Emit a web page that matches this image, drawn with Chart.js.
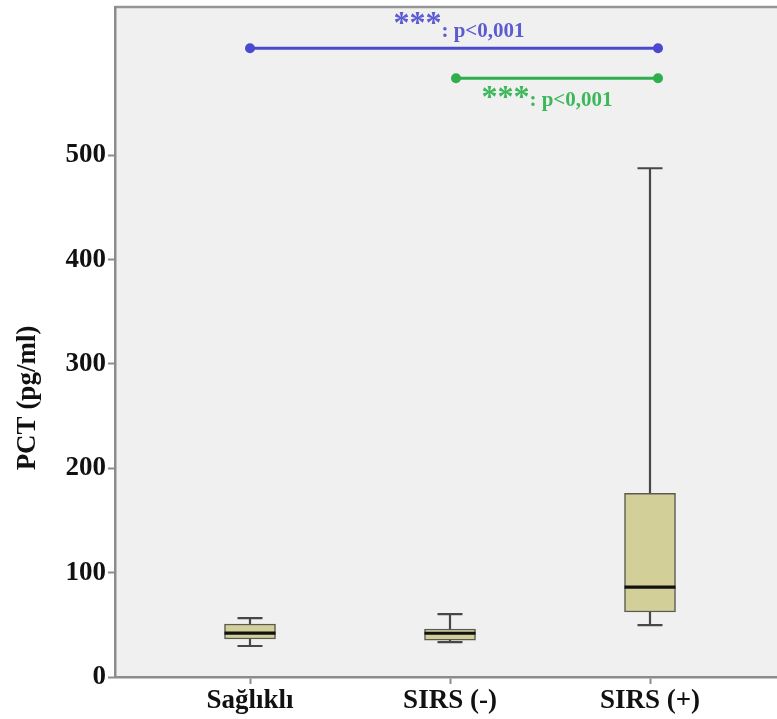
<!DOCTYPE html>
<html>
<head>
<meta charset="utf-8">
<script src="https://cdn.jsdelivr.net/npm/chart.js@4.4.1/dist/chart.umd.min.js"></script>
<style>
body { margin: 0; background: #fff; }
#wrap { width: 777px; height: 719px; overflow: hidden; }
</style>
</head>
<body>
<div id="wrap"><canvas id="box-chart" width="800" height="719"></canvas></div>
<script>
// PCT per group (pg/ml)
const groups = ['Sağlıklı', 'SIRS (-)', 'SIRS (+)'];
const whiskerLow = [29.7, 33.5, 49.8];
const q1 = [36.4, 35.4, 62.3];
const median = [42.1, 41.9, 86.2];
const q3 = [50.8, 46.0, 176];
const whiskerHigh = [56.5, 60.3, 487.5];
const yTicks = [0, 100, 200, 300, 400, 500];

// comparison brackets
const bracketFrom = [1.0, 2.03];
const bracketTo = [3.04, 3.04];
const bracketY = [602.5, 573.8];
const bracketText = ['***', '***'];
const bracketP = [': p<0,001', ': p<0,001'];
const bracketColor = ['#4a4ad0', '#2eae4c'];
const bracketTextColor = ['#5c5cd2', '#3cb85a'];

const FONT = '"Liberation Serif", "Times New Roman", serif';
const BOX_W = 51;

const canvas = document.querySelector('#box-chart');

const plotBg = {
    id: 'plotBg',
    beforeDraw(chart) {
        const {ctx, chartArea: a} = chart;
        ctx.save();
        ctx.fillStyle = '#f0f0f0';
        ctx.fillRect(a.left, a.top, a.right - a.left, a.bottom - a.top);
        ctx.strokeStyle = '#969696';
        ctx.lineWidth = 2.5;
        ctx.beginPath();
        ctx.moveTo(a.left, a.top);
        ctx.lineTo(a.right, a.top);
        ctx.stroke();
        ctx.restore();
    }
};

const whiskers = {
    id: 'whiskers',
    beforeDatasetsDraw(chart) {
        const {ctx, scales: {x, y}} = chart;
        ctx.save();
        ctx.strokeStyle = '#474747';
        ctx.lineWidth = 2.2;
        groups.forEach((g, i) => {
            const px = x.getPixelForValue(i + 1);
            ctx.beginPath();
            ctx.moveTo(px, y.getPixelForValue(whiskerLow[i]));
            ctx.lineTo(px, y.getPixelForValue(q1[i]));
            ctx.moveTo(px, y.getPixelForValue(q3[i]));
            ctx.lineTo(px, y.getPixelForValue(whiskerHigh[i]));
            // caps
            [whiskerLow[i], whiskerHigh[i]].forEach(v => {
                const py = y.getPixelForValue(v);
                ctx.moveTo(px - 12.5, py);
                ctx.lineTo(px + 12.5, py);
            });
            ctx.stroke();
        });
        ctx.restore();
    }
};

const medians = {
    id: 'medians',
    afterDatasetsDraw(chart) {
        const {ctx, scales: {x, y}} = chart;
        ctx.save();
        ctx.strokeStyle = '#111';
        ctx.lineWidth = 3.2;
        groups.forEach((g, i) => {
            const px = x.getPixelForValue(i + 1);
            const py = y.getPixelForValue(median[i]);
            ctx.beginPath();
            ctx.moveTo(px - BOX_W / 2, py);
            ctx.lineTo(px + BOX_W / 2, py);
            ctx.stroke();
        });
        ctx.restore();
    }
};

const labels = {
    id: 'labels',
    afterDraw(chart) {
        const {ctx, scales: {x, y}} = chart;
        ctx.save();
        // y title
        ctx.translate(28, 398);
        ctx.rotate(-Math.PI / 2);
        ctx.fillStyle = '#111';
        ctx.font = 'bold 27px ' + FONT;
        ctx.textAlign = 'center';
        ctx.textBaseline = 'middle';
        ctx.fillText('PCT (pg/ml)', 0, 0);
        ctx.restore();

        ctx.save();
        ctx.textAlign = 'left';
        ctx.textBaseline = 'alphabetic';
        bracketText.forEach((t, i) => {
            const mid = (x.getPixelForValue(bracketFrom[i]) + x.getPixelForValue(bracketTo[i])) / 2;
            const ly = y.getPixelForValue(bracketY[i]);
            const above = i === 0;
            ctx.fillStyle = bracketTextColor[i];
            ctx.font = 'bold 32px ' + FONT;
            const sw = ctx.measureText(t).width;
            ctx.font = 'bold 21px ' + FONT;
            const pw = ctx.measureText(bracketP[i]).width;
            const left = mid + (above ? 5 : -10) - (sw + pw) / 2;
            const starBase = above ? ly - 15 : ly + 29;
            const pBase = above ? ly - 11 : ly + 28;
            ctx.font = 'bold 32px ' + FONT;
            ctx.fillText(t, left, starBase);
            ctx.font = 'bold 21px ' + FONT;
            ctx.fillText(bracketP[i], left + sw, pBase);
        });
        ctx.restore();
    }
};

const boxData = groups.map((g, i) => ({x: i + 1, y: [q1[i], q3[i]]}));

const bracketSets = bracketFrom.map((f, i) => ({
    type: 'line',
    data: [{x: f, y: bracketY[i]}, {x: bracketTo[i], y: bracketY[i]}],
    borderColor: bracketColor[i],
    borderWidth: 3,
    pointRadius: 5,
    pointBackgroundColor: bracketColor[i],
    pointBorderWidth: 0,
    order: 0
}));

new Chart(canvas, {
    type: 'bar',
    data: {
        datasets: [
            {
                type: 'bar',
                data: boxData,
                backgroundColor: '#d3cf98',
                borderColor: '#5a5a52',
                borderWidth: 1.5,
                borderSkipped: false,
                barThickness: BOX_W,
                order: 1
            },
            ...bracketSets
        ]
    },
    options: {
        responsive: false,
        animation: false,
        devicePixelRatio: 1,
        layout: {padding: {top: 7, right: 15, left: 0, bottom: 0}},
        plugins: {legend: {display: false}, tooltip: {enabled: false}},
        scales: {
            x: {
                type: 'linear',
                offset: false,
                min: 0.325,
                max: 3.675,
                afterBuildTicks: (s) => { s.ticks = groups.map((g, i) => ({value: i + 1})); },
                afterFit: (s) => { s.height = 42; s.paddingLeft = 0; s.paddingRight = 0; },
                border: {color: '#8c8c8c', width: 2.5},
                grid: {offset: false, drawOnChartArea: false, drawTicks: true, tickLength: 7, tickColor: '#8c8c8c', tickWidth: 2},
                ticks: {
                    autoSkip: false,
                    maxRotation: 0,
                    padding: 1,
                    color: '#111',
                    font: {family: FONT, size: 27, weight: 'bold'},
                    callback: (v) => groups[v - 1]
                }
            },
            y: {
                min: 0,
                max: 642,
                afterBuildTicks: (s) => { s.ticks = yTicks.map(v => ({value: v})); },
                afterFit: (s) => { s.width = 115; s.paddingTop = 0; s.paddingBottom = 0; },
                border: {color: '#8c8c8c', width: 2.5},
                grid: {drawOnChartArea: false, drawTicks: true, tickLength: 7, tickColor: '#8c8c8c', tickWidth: 2},
                ticks: {
                    padding: 2,
                    color: '#111',
                    font: {family: FONT, size: 27, weight: 'bold'}
                }
            }
        }
    },
    plugins: [plotBg, whiskers, medians, labels]
});
</script>
</body>
</html>
